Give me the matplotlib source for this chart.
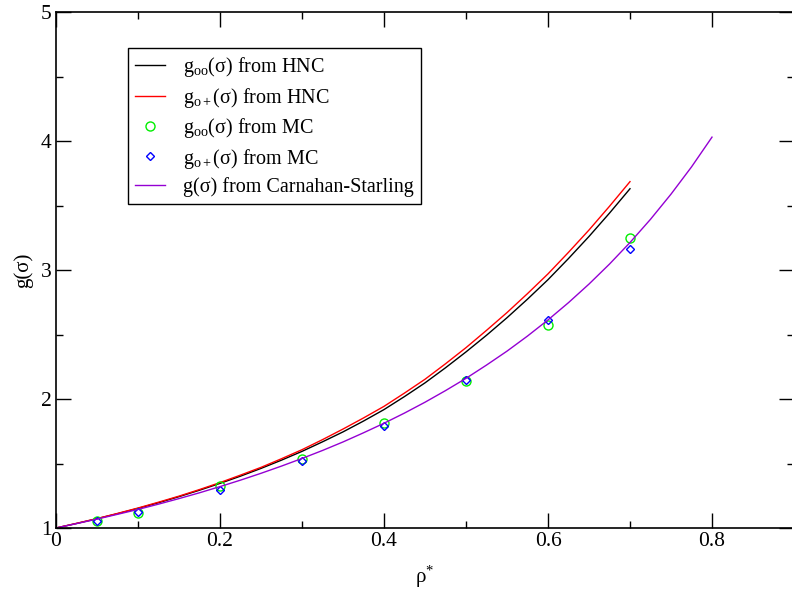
import numpy as np
import matplotlib
matplotlib.use("Agg")
import matplotlib.pyplot as plt
from matplotlib.ticker import MultipleLocator

plt.rcParams["font.family"] = ["Liberation Serif", "DejaVu Serif"]
plt.rcParams["mathtext.fontset"] = "custom"
plt.rcParams["mathtext.rm"] = "Liberation Serif"
plt.rcParams["mathtext.it"] = "Liberation Serif:italic"

# ── data ───────────────────────────────────────────────────────────────────────
rho_line = [0.0, 0.025, 0.05, 0.075, 0.1, 0.125, 0.15, 0.175, 0.2, 0.225,
            0.25, 0.275, 0.3, 0.325, 0.35, 0.375, 0.4, 0.425, 0.45, 0.475,
            0.5, 0.525, 0.55, 0.575, 0.6, 0.625, 0.65, 0.675, 0.7]
g_oo_hnc = [1.0, 1.035, 1.072, 1.111, 1.152, 1.196, 1.243, 1.293, 1.346,
            1.402, 1.462, 1.526, 1.594, 1.668, 1.745, 1.829, 1.918, 2.019,
            2.125, 2.242, 2.365, 2.494, 2.63, 2.774, 2.925, 3.089, 3.26,
            3.441, 3.63]
g_op_hnc = [1.0, 1.036, 1.073, 1.113, 1.155, 1.200, 1.247, 1.298, 1.352,
            1.410, 1.470, 1.537, 1.607, 1.685, 1.767, 1.853, 1.943, 2.046,
            2.153, 2.273, 2.398, 2.532, 2.67, 2.817, 2.97, 3.137, 3.31,
            3.494, 3.685]

rho_cs = [0.0, 0.025, 0.05, 0.075, 0.1, 0.125, 0.15, 0.175, 0.2, 0.225,
          0.25, 0.275, 0.3, 0.325, 0.35, 0.375, 0.4, 0.425, 0.45, 0.475,
          0.5, 0.525, 0.55, 0.575, 0.6, 0.625, 0.65, 0.675, 0.7, 0.725,
          0.75, 0.775, 0.8]
g_cs = [1.0, 1.034, 1.069, 1.106, 1.144, 1.185, 1.228, 1.273, 1.321,
        1.371, 1.424, 1.480, 1.539, 1.601, 1.667, 1.738, 1.812, 1.891,
        1.975, 2.065, 2.160, 2.263, 2.371, 2.488, 2.613, 2.747, 2.891,
        3.046, 3.213, 3.393, 3.588, 3.799, 4.03]

rho_mc = [0.05, 0.1, 0.2, 0.3, 0.4, 0.5, 0.6, 0.7]
g_oo_mc = [1.058, 1.118, 1.326, 1.535, 1.815, 2.14, 2.57, 3.248]
g_op_mc = [1.055, 1.122, 1.298, 1.52, 1.79, 2.147, 2.61, 3.165]

# ── figure ─────────────────────────────────────────────────────────────────────
W, H = 792, 592
fig = plt.figure(figsize=(W / 100, H / 100), dpi=100)
x0, x1, y0, y1 = 56, 794, 12, 528
ax = fig.add_axes([x0 / W, 1 - y1 / H, (x1 - x0) / W, (y1 - y0) / H])

ax.plot(rho_line, g_oo_hnc, color="black", lw=1.0,
        label=r"g$_{\mathrm{oo}}$(σ) from HNC")
ax.plot(rho_line, g_op_hnc, color="red", lw=1.0,
        label=r"g$_{\mathrm{o+}}$(σ) from HNC")
ax.plot(rho_mc, g_oo_mc, ls="none", marker="o", ms=6.5, mfc="none",
        mec="#00ee00", mew=1.0, label=r"g$_{\mathrm{oo}}$(σ) from MC")
ax.plot(rho_mc, g_op_mc, ls="none", marker="D", ms=4.5, mfc="none",
        mec="blue", mew=1.0, label=r"g$_{\mathrm{o+}}$(σ) from MC")
ax.plot(rho_cs, g_cs, color="#9400d3", lw=1.0,
        label="g(σ) from Carnahan-Starling")

ax.set_xlim(0, 0.9)
ax.set_ylim(1, 5)
ax.xaxis.set_major_locator(MultipleLocator(0.2))
ax.xaxis.set_minor_locator(MultipleLocator(0.1))
ax.yaxis.set_major_locator(MultipleLocator(1))
ax.yaxis.set_minor_locator(MultipleLocator(0.5))
ax.xaxis.set_major_formatter(plt.FuncFormatter(lambda v, p: f"{v:g}"))
ax.tick_params(which="both", direction="in", top=True, right=True,
               labelsize=15.5, width=1.0, pad=3)
ax.tick_params(which="major", length=10.5)
ax.tick_params(which="minor", length=5)
for sp in ax.spines.values():
    sp.set_linewidth(1.2)

ax.set_xlabel(r"ρ$^{*}$", fontsize=15, labelpad=9)
ax.set_ylabel("g(σ)", fontsize=15, labelpad=6)

leg = ax.legend(loc="upper left", bbox_to_anchor=(0.0976, 0.930),
                borderaxespad=0, fontsize=14.5, frameon=True, fancybox=False,
                edgecolor="black", framealpha=1, handlelength=1.5,
                handletextpad=0.9, labelspacing=0.32, borderpad=0.35,
                numpoints=1)
leg.get_frame().set_linewidth(1.0)

fig.savefig("out.png", dpi=100)
